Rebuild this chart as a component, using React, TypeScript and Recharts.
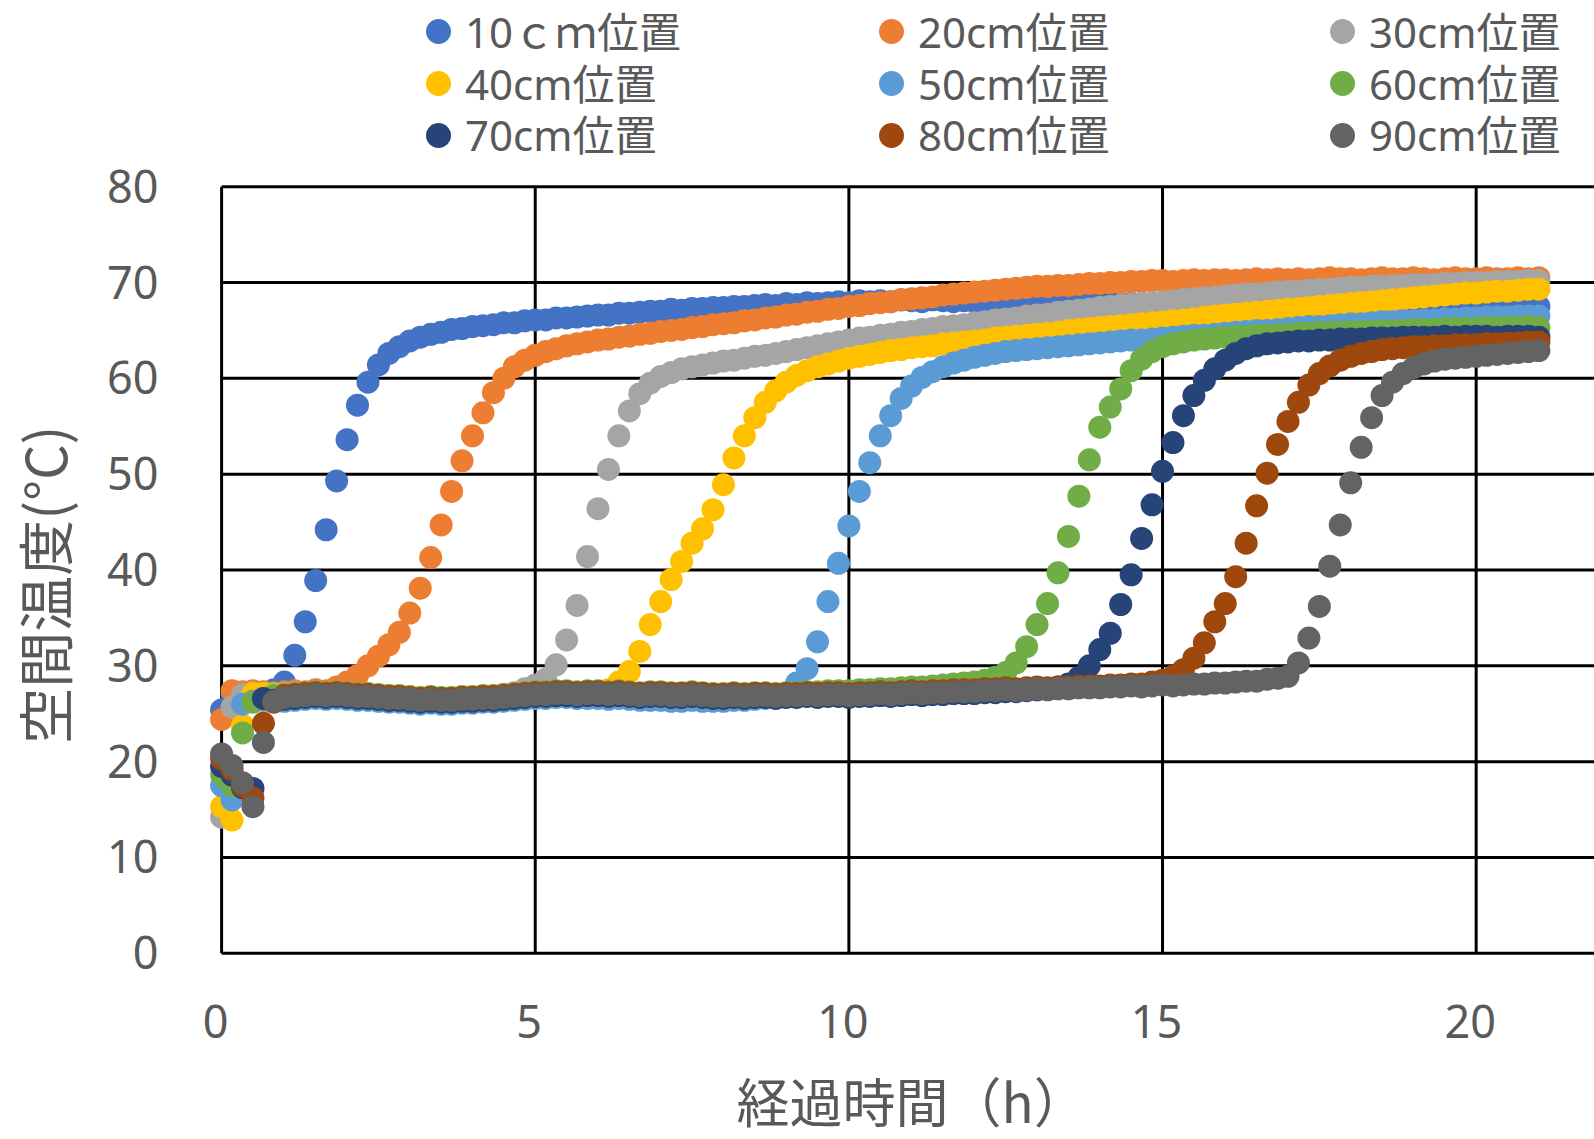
import { ScatterChart, Scatter, XAxis, YAxis, CartesianGrid } from 'recharts';

// logger interval: one reading every 10 minutes
const STEP_H = 1 / 6;

const labels = ['10ｃｍ位置', '20cm位置', '30cm位置', '40cm位置', '50cm位置', '60cm位置', '70cm位置', '80cm位置', '90cm位置'];
const colors = ['#4472C4', '#ED7D31', '#A5A5A5', '#FFC000', '#5B9BD5', '#70AD47', '#264478', '#9E480E', '#636363'];

const xTicks = [0, 5, 10, 15, 20];
const yTicks = [0, 10, 20, 30, 40, 50, 60, 70, 80];

const temp10 = [
  25.4, 26.9, 27.2, 27.3, 27.2, 27.5,
  28.3, 31.1, 34.6, 38.9, 44.2, 49.3,
  53.6, 57.2, 59.6, 61.4, 62.6, 63.3,
  63.9, 64.3, 64.6, 64.8, 65.1, 65.2,
  65.4, 65.5, 65.6, 65.8, 65.8, 66.0,
  66.1, 66.1, 66.3, 66.3, 66.4, 66.5,
  66.6, 66.6, 66.8, 66.8, 66.9, 67.0,
  67.0, 67.2, 67.1, 67.3, 67.3, 67.4,
  67.4, 67.5, 67.5, 67.6, 67.7, 67.6,
  67.8, 67.7, 67.9, 67.8, 67.9, 68.0,
  67.9, 68.1, 68.0, 68.1, 68.0, 68.2,
  68.1, 68.0, 68.2, 68.1, 68.0, 68.1,
  68.0, 68.1, 67.9, 68.0, 68.1, 67.9,
  68.0, 67.9, 68.0, 67.8, 67.9, 67.9,
  67.8, 67.9, 67.7, 67.8, 67.8, 67.7,
  67.8, 67.6, 67.7, 67.7, 67.6, 67.7,
  67.6, 67.7, 67.5, 67.6, 67.6, 67.5,
  67.6, 67.5, 67.6, 67.4, 67.5, 67.5,
  67.4, 67.5, 67.5, 67.4, 67.6, 67.5,
  67.5, 67.4, 67.5, 67.6, 67.4, 67.5,
  67.5, 67.6, 67.4, 67.5, 67.5, 67.6, 67.5,
];

const temp20 = [
  24.4, 27.4, 27.3, 27.4, 27.3, 27.2,
  27.3, 27.4, 27.3, 27.5, 27.4, 27.8,
  28.3, 29.0, 30.0, 31.0, 32.2, 33.5,
  35.5, 38.1, 41.3, 44.7, 48.2, 51.4,
  54.0, 56.4, 58.5, 60.0, 61.2, 61.9,
  62.4, 62.8, 63.1, 63.4, 63.6, 63.8,
  64.0, 64.1, 64.3, 64.4, 64.6, 64.7,
  64.9, 65.0, 65.1, 65.3, 65.4, 65.6,
  65.7, 65.8, 66.0, 66.1, 66.3, 66.4,
  66.6, 66.7, 66.9, 67.0, 67.2, 67.3,
  67.5, 67.6, 67.8, 67.9, 68.0, 68.2,
  68.3, 68.4, 68.5, 68.7, 68.8, 68.9,
  69.0, 69.1, 69.2, 69.3, 69.4, 69.5,
  69.6, 69.6, 69.7, 69.7, 69.8, 69.9,
  69.9, 70.0, 70.0, 70.1, 70.1, 70.2,
  70.2, 70.1, 70.2, 70.3, 70.2, 70.3,
  70.3, 70.2, 70.3, 70.4, 70.3, 70.4,
  70.3, 70.4, 70.3, 70.4, 70.5, 70.4,
  70.4, 70.3, 70.4, 70.5, 70.4, 70.4,
  70.5, 70.4, 70.3, 70.4, 70.5, 70.4,
  70.4, 70.5, 70.4, 70.4, 70.5, 70.4, 70.5,
];

const temp30 = [
  14.2, 25.7, 27.0, 27.2, 27.1, 27.1,
  27.1, 27.2, 27.2, 27.3, 27.2, 27.3,
  27.2, 27.1, 27.0, 26.9, 26.9, 26.8,
  26.7, 26.6, 26.7, 26.6, 26.6, 26.7,
  26.7, 26.8, 26.8, 27.0, 27.2, 27.6,
  28.0, 28.6, 30.1, 32.7, 36.3, 41.4,
  46.4, 50.5, 54.0, 56.6, 58.4, 59.5,
  60.2, 60.6, 61.0, 61.2, 61.4, 61.6,
  61.8, 61.9, 62.1, 62.3, 62.4, 62.6,
  62.8, 63.0, 63.2, 63.4, 63.6, 63.8,
  64.0, 64.2, 64.3, 64.5, 64.6, 64.8,
  64.9, 65.1, 65.2, 65.4, 65.5, 65.6,
  65.8, 65.9, 66.1, 66.2, 66.3, 66.5,
  66.6, 66.7, 66.9, 67.0, 67.1, 67.2,
  67.4, 67.5, 67.6, 67.7, 67.8, 67.9,
  68.0, 68.1, 68.2, 68.3, 68.4, 68.5,
  68.6, 68.7, 68.8, 68.8, 68.9, 69.0,
  69.1, 69.1, 69.2, 69.3, 69.3, 69.4,
  69.5, 69.5, 69.6, 69.6, 69.7, 69.7,
  69.8, 69.8, 69.8, 69.9, 69.9, 70.0,
  70.0, 70.0, 70.1, 70.1, 70.1, 70.2, 70.2,
];

const temp40 = [
  15.3, 13.9, 23.8, 27.1, 27.1, 27.0,
  27.0, 27.1, 27.1, 27.2, 27.1, 27.2,
  27.1, 27.0, 26.9, 26.8, 26.8, 26.7,
  26.6, 26.5, 26.6, 26.5, 26.5, 26.6,
  26.6, 26.7, 26.7, 26.8, 26.9, 27.0,
  27.1, 27.1, 27.2, 27.2, 27.1, 27.2,
  27.3, 27.5, 28.3, 29.4, 31.5, 34.3,
  36.7, 39.0, 40.9, 42.8, 44.3, 46.3,
  48.9, 51.7, 54.0, 55.9, 57.5, 58.7,
  59.6, 60.3, 60.8, 61.2, 61.5, 61.8,
  62.1, 62.3, 62.5, 62.7, 62.9, 63.0,
  63.2, 63.3, 63.4, 63.6, 63.7, 63.8,
  63.9, 64.0, 64.2, 64.3, 64.4, 64.5,
  64.6, 64.7, 64.8, 65.0, 65.1, 65.2,
  65.3, 65.4, 65.5, 65.6, 65.7, 65.8,
  65.9, 66.0, 66.1, 66.2, 66.4, 66.5,
  66.6, 66.7, 66.8, 66.9, 67.0, 67.1,
  67.2, 67.3, 67.4, 67.5, 67.6, 67.7,
  67.8, 67.9, 68.0, 68.1, 68.2, 68.3,
  68.4, 68.5, 68.6, 68.7, 68.8, 68.9,
  68.9, 69.0, 69.1, 69.1, 69.2, 69.3, 69.3,
];

const temp50 = [
  17.5, 16.0, 26.0, 26.3, 26.4, 26.4,
  26.3, 26.4, 26.5, 26.6, 26.5, 26.6,
  26.5, 26.4, 26.4, 26.3, 26.2, 26.2,
  26.1, 26.0, 26.1, 26.0, 26.0, 26.1,
  26.1, 26.2, 26.2, 26.3, 26.4, 26.5,
  26.6, 26.6, 26.7, 26.7, 26.6, 26.6,
  26.6, 26.5, 26.6, 26.5, 26.4, 26.4,
  26.4, 26.3, 26.3, 26.4, 26.3, 26.3,
  26.3, 26.4, 26.4, 26.5, 26.6, 26.7,
  27.0, 28.2, 29.7, 32.5, 36.7, 40.7,
  44.6, 48.2, 51.2, 54.0, 56.1, 57.9,
  59.2, 60.1, 60.7, 61.2, 61.6, 61.9,
  62.2, 62.4, 62.6, 62.8, 62.9, 63.0,
  63.1, 63.2, 63.3, 63.4, 63.5, 63.6,
  63.7, 63.8, 63.9, 64.0, 64.0, 64.1,
  64.2, 64.3, 64.4, 64.5, 64.5, 64.6,
  64.7, 64.8, 64.9, 65.0, 65.0, 65.1,
  65.2, 65.3, 65.4, 65.4, 65.5, 65.6,
  65.7, 65.7, 65.8, 65.9, 65.9, 66.0,
  66.0, 66.1, 66.1, 66.2, 66.2, 66.3,
  66.3, 66.4, 66.4, 66.4, 66.5, 66.5, 66.5,
];

const temp60 = [
  18.6, 17.5, 23.0, 26.2, 26.6, 26.9,
  27.0, 27.1, 27.2, 27.3, 27.2, 27.3,
  27.2, 27.1, 27.1, 27.0, 26.9, 26.9,
  26.8, 26.7, 26.8, 26.7, 26.7, 26.8,
  26.8, 26.9, 26.9, 27.0, 27.1, 27.2,
  27.3, 27.3, 27.4, 27.4, 27.3, 27.4,
  27.4, 27.3, 27.4, 27.3, 27.2, 27.3,
  27.3, 27.2, 27.2, 27.3, 27.2, 27.1,
  27.1, 27.2, 27.1, 27.2, 27.2, 27.1,
  27.2, 27.2, 27.3, 27.3, 27.4, 27.4,
  27.4, 27.5, 27.5, 27.6, 27.6, 27.7,
  27.8, 27.8, 27.9, 28.0, 28.1, 28.2,
  28.3, 28.5, 28.8, 29.3, 30.3, 32.0,
  34.3, 36.5, 39.7, 43.5, 47.7, 51.5,
  54.9, 57.0, 58.9, 60.8, 62.0, 62.8,
  63.3, 63.6, 63.8, 64.0, 64.1, 64.2,
  64.3, 64.4, 64.4, 64.5, 64.5, 64.6,
  64.6, 64.7, 64.7, 64.8, 64.8, 64.8,
  64.9, 64.9, 64.9, 65.0, 65.0, 65.0,
  65.1, 65.1, 65.1, 65.2, 65.2, 65.2,
  65.2, 65.3, 65.3, 65.3, 65.3, 65.4, 65.3,
];

const temp70 = [
  19.5, 18.6, 17.3, 17.2, 26.6, 26.4,
  26.5, 26.6, 26.7, 26.8, 26.7, 26.8,
  26.7, 26.6, 26.6, 26.5, 26.4, 26.4,
  26.3, 26.2, 26.3, 26.2, 26.2, 26.3,
  26.3, 26.4, 26.4, 26.5, 26.6, 26.7,
  26.8, 26.8, 26.9, 26.9, 26.8, 26.9,
  26.9, 26.8, 26.9, 26.8, 26.7, 26.8,
  26.8, 26.7, 26.7, 26.8, 26.7, 26.6,
  26.6, 26.7, 26.6, 26.7, 26.7, 26.6,
  26.7, 26.7, 26.8, 26.7, 26.8, 26.8,
  26.7, 26.8, 26.8, 26.9, 26.8, 26.9,
  27.0, 26.9, 27.0, 27.0, 27.1, 27.1,
  27.1, 27.2, 27.2, 27.3, 27.3, 27.4,
  27.5, 27.6, 27.8, 28.1, 28.8, 30.0,
  31.7, 33.4, 36.4, 39.5, 43.3, 46.8,
  50.3, 53.3, 56.1, 58.2, 59.8, 61.0,
  61.9, 62.6, 63.1, 63.4, 63.6, 63.7,
  63.8, 63.9, 63.9, 64.0, 64.0, 64.1,
  64.1, 64.1, 64.2, 64.2, 64.2, 64.3,
  64.3, 64.3, 64.3, 64.4, 64.3, 64.4,
  64.4, 64.4, 64.3, 64.4, 64.4, 64.4, 64.3,
];

const temp80 = [
  20.3, 19.2, 17.5, 16.2, 24.0, 26.2,
  26.9, 27.0, 27.1, 27.2, 27.1, 27.2,
  27.1, 27.0, 27.0, 26.9, 26.8, 26.8,
  26.7, 26.6, 26.7, 26.6, 26.6, 26.7,
  26.7, 26.8, 26.8, 26.9, 27.0, 27.1,
  27.2, 27.2, 27.3, 27.3, 27.2, 27.3,
  27.3, 27.2, 27.3, 27.2, 27.1, 27.2,
  27.2, 27.1, 27.1, 27.2, 27.1, 27.0,
  27.0, 27.1, 27.0, 27.1, 27.1, 27.0,
  27.1, 27.1, 27.2, 27.1, 27.2, 27.2,
  27.1, 27.2, 27.2, 27.3, 27.2, 27.3,
  27.4, 27.3, 27.4, 27.4, 27.5, 27.5,
  27.5, 27.6, 27.6, 27.7, 27.6, 27.7,
  27.8, 27.7, 27.8, 27.8, 27.9, 27.9,
  27.9, 28.0, 28.0, 28.1, 28.1, 28.3,
  28.5, 28.9, 29.6, 30.8, 32.4, 34.6,
  36.5, 39.3, 42.8, 46.7, 50.1, 53.1,
  55.5, 57.5, 59.3, 60.5, 61.3, 61.9,
  62.3, 62.6, 62.8, 63.0, 63.1, 63.2,
  63.3, 63.3, 63.4, 63.4, 63.5, 63.5,
  63.5, 63.6, 63.6, 63.7, 63.7, 63.8, 63.8,
];

const temp90 = [
  20.8, 19.6, 17.8, 15.3, 22.0, 26.3,
  26.7, 26.8, 26.9, 27.0, 26.9, 27.0,
  26.9, 26.8, 26.8, 26.7, 26.6, 26.6,
  26.5, 26.4, 26.5, 26.4, 26.4, 26.5,
  26.5, 26.6, 26.6, 26.7, 26.8, 26.9,
  27.0, 27.0, 27.1, 27.1, 27.0, 27.1,
  27.1, 27.0, 27.1, 27.0, 26.9, 27.0,
  27.0, 26.9, 26.9, 27.0, 26.9, 26.8,
  26.8, 26.9, 26.8, 26.9, 26.9, 26.8,
  26.9, 26.9, 27.0, 26.9, 27.0, 27.0,
  26.9, 27.0, 27.0, 27.1, 27.0, 27.1,
  27.2, 27.1, 27.2, 27.2, 27.3, 27.3,
  27.3, 27.4, 27.4, 27.5, 27.4, 27.5,
  27.6, 27.5, 27.6, 27.6, 27.7, 27.7,
  27.7, 27.8, 27.8, 27.9, 27.8, 27.9,
  28.0, 27.9, 28.0, 28.1, 28.1, 28.2,
  28.2, 28.3, 28.4, 28.4, 28.6, 28.7,
  28.9, 30.3, 32.9, 36.2, 40.4, 44.7,
  49.1, 52.8, 55.9, 58.2, 59.6, 60.5,
  61.1, 61.5, 61.8, 62.0, 62.1, 62.2,
  62.3, 62.4, 62.5, 62.6, 62.7, 62.8, 62.9,
];

const seriesValues = [temp10, temp20, temp30, temp40, temp50, temp60, temp70, temp80, temp90];

const toPoints = (values: number[]) => values.map((v, i) => ({ t: i * STEP_H, v }));

const textGray = '#595959';
const latinFont = '"Noto Sans", "Noto Sans CJK JP", sans-serif';
const cjkFont = '"Noto Sans CJK JP", "Noto Sans", sans-serif';

function LegendBlock() {
  return (
    <div style={{ position: 'absolute', left: 426, top: 6, width: 1400, display: 'grid', gridTemplateColumns: '453px 451px 453px', gridAutoRows: '51.7px' }}>
      {labels.map((label, i) => (
        <div key={label} style={{ display: 'flex', alignItems: 'center' }}>
          <span style={{ width: 25, height: 25, borderRadius: '50%', background: colors[i], marginRight: 14, flex: 'none' }} />
          <span style={{ fontFamily: latinFont, fontSize: 42, color: textGray, lineHeight: 1, whiteSpace: 'nowrap' }}>{label}</span>
        </div>
      ))}
    </div>
  );
}

export default function App() {
  return (
    <div style={{ position: 'absolute', left: 0, top: 0, width: 1594, height: 1139, overflow: 'hidden', background: '#fff' }}>
      <ScatterChart width={1800} height={1139} margin={{ top: 186.7, right: 10.2, bottom: 35.7, left: 0 }}>
        <CartesianGrid stroke="#000" strokeWidth={3} />
        <XAxis
          type="number"
          dataKey="t"
          domain={[0, 25]}
          ticks={xTicks}
          height={150}
          axisLine={false}
          tickLine={false}
          tickSize={0}
          tickMargin={53}
          tick={{ fill: textGray, fontSize: 45, fontFamily: latinFont, dx: -6 }}
          label={{
            content: ({ viewBox }: any) => (
              <text x={viewBox.x + 690} y={1100} textAnchor="middle" dominantBaseline="central" fill={textGray} fontSize={53} fontFamily={cjkFont}>
                経過時間（h）
              </text>
            ),
          }}
        />
        <YAxis
          type="number"
          dataKey="v"
          domain={[0, 80]}
          ticks={yTicks}
          width={221.6}
          axisLine={false}
          tickLine={false}
          tickSize={0}
          tickMargin={63}
          tick={{ fill: textGray, fontSize: 45, fontFamily: latinFont }}
          label={{
            content: () => (
              <text x={43} y={584.6} transform="rotate(-90 43 584.6)" textAnchor="middle" dominantBaseline="central" fill={textGray} fontSize={56} fontFamily={cjkFont}>
                空間温度(°C)
              </text>
            ),
          }}
        />
        {seriesValues.map((values, i) => (
          <Scatter
            key={labels[i]}
            name={labels[i]}
            data={toPoints(values)}
            fill={colors[i]}
            isAnimationActive={false}
            shape={(p: any) => <circle cx={p.cx} cy={p.cy} r={11.5} fill={colors[i]} />}
          />
        ))}
      </ScatterChart>
      <LegendBlock />
    </div>
  );
}
